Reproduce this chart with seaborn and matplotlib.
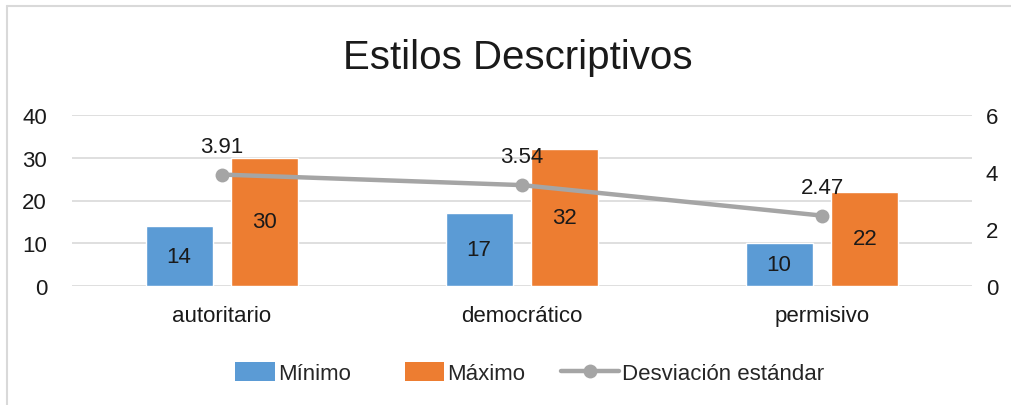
import matplotlib
matplotlib.use("Agg")
import matplotlib.pyplot as plt
import seaborn as sns
import pandas as pd
from matplotlib.lines import Line2D
from matplotlib.patches import Patch, Rectangle
from matplotlib.legend_handler import HandlerPatch

categories = ["autoritario", "democrático", "permisivo"]
minimo = [14, 17, 10]
maximo = [30, 32, 22]
desviacion = [3.91, 3.54, 2.47]
series_names = ["Mínimo", "Máximo", "Desviación estándar"]
left_ticks = [0, 10, 20, 30, 40]
right_ticks = [0, 2, 4, 6]
title = "Estilos Descriptivos"

sns.set_theme(style="white")
FONT = ["Liberation Sans Narrow", "Liberation Sans", "DejaVu Sans"]
plt.rcParams["font.family"] = FONT

BLUE = "#5B9BD5"
ORANGE = "#ED7D31"
GRAY = "#A5A5A5"
TXT = "#1a1a1a"

df = pd.DataFrame({
    "cat": categories * 2,
    "serie": [series_names[0]] * 3 + [series_names[1]] * 3,
    "valor": minimo + maximo,
})

fig = plt.figure(figsize=(10.11, 4.06), dpi=100)
ax = fig.add_axes([72 / 1011, 1 - 287 / 406, 900 / 1011, 171 / 406])

sns.barplot(data=df, x="cat", y="valor", hue="serie", order=categories,
            hue_order=series_names[:2], palette=[BLUE, ORANGE],
            width=0.573, gap=0.22, ax=ax, legend=False, saturation=1)

for cont in ax.containers:
    ax.bar_label(cont, label_type="center", fontsize=16, color=TXT)

ax.set_xlim(-0.5, 2.5)
ax.set_ylim(0, 40)
ax.set_yticks(left_ticks)
ax.yaxis.grid(True, color="#D9D9D9", linewidth=1.2)
ax.set_axisbelow(True)
for s in ax.spines.values():
    s.set_visible(False)
ax.set_xlabel("")
ax.set_ylabel("")
ax.tick_params(axis="y", labelsize=16, length=0, pad=18, labelcolor=TXT)
ax.tick_params(axis="x", labelsize=16, length=0, pad=14, labelcolor=TXT)

ax2 = ax.twinx()
sns.lineplot(x=list(range(len(categories))), y=desviacion, ax=ax2, color=GRAY,
             linewidth=3.2, marker="o", markersize=10, markeredgewidth=0, legend=False)
ax2.set_ylim(0, 6)
ax2.set_yticks(right_ticks)
for s in ax2.spines.values():
    s.set_visible(False)
ax2.tick_params(axis="y", labelsize=16, length=0, pad=10, labelcolor=TXT)
ax2.set_ylabel("")
for i, v in enumerate(desviacion):
    ax2.annotate(f"{v:.2f}", (i, v), xytext=(0, 13), textcoords="offset points",
                 ha="center", va="bottom", fontsize=16, color=TXT)
ax.set_xlim(-0.5, 2.5)

fig.text(0.512, 1 - 58 / 406, title, ha="center", va="center", fontsize=29, color=TXT)


def narrow_patch(legend, orig_handle, xdescent, ydescent, width, height, fontsize):
    w = width * 0.68
    return Rectangle((-xdescent + width - w, -ydescent), w, height)


handles = [Patch(facecolor=BLUE, edgecolor="none"),
           Patch(facecolor=ORANGE, edgecolor="none"),
           Line2D([0], [0], color=GRAY, linewidth=3.2, marker="o", markersize=10,
                  markeredgewidth=0)]
fig.legend(handles, series_names, loc="center", bbox_to_anchor=(0.515, 1 - 374 / 406),
           ncol=3, frameon=False, fontsize=16, handlelength=2.6, handletextpad=0.15,
           columnspacing=1.6, handleheight=0.9,
           handler_map={Patch: HandlerPatch(patch_func=narrow_patch)})

# chart area border
fig.add_artist(Line2D([7 / 1011, 1.0], [1 - 7 / 406, 1 - 7 / 406], color="#D9D9D9",
                      linewidth=1.5, transform=fig.transFigure))
fig.add_artist(Line2D([7 / 1011, 7 / 1011], [0, 1 - 7 / 406], color="#D9D9D9",
                      linewidth=1.5, transform=fig.transFigure))

fig.savefig("out.png", dpi=100)
